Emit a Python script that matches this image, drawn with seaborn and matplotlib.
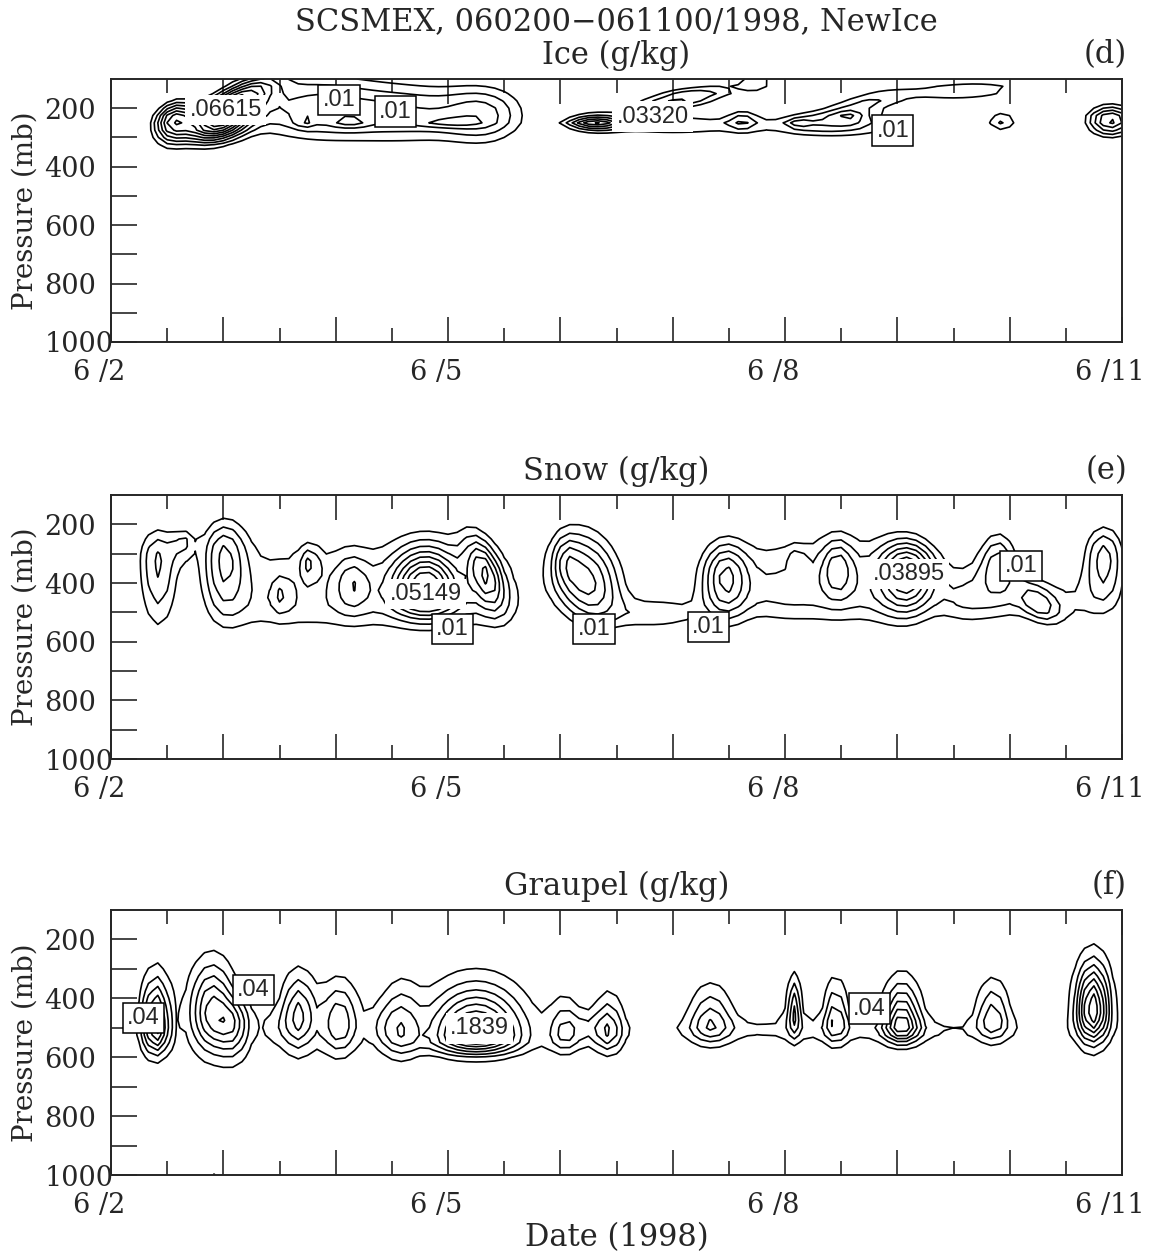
import numpy as np
import matplotlib
matplotlib.use("Agg")
import matplotlib.pyplot as plt
import matplotlib.transforms as mtransforms
import seaborn as sns

# model grid: 2-hourly output, 25 mb levels (days counted from 6/2 00Z)
days = np.arange(0, 9.0001, 1 / 12)
pres = np.arange(100, 1001, 25)

# cells of each hydrometeor: time (day), pressure (mb), peak (g/kg),
# width in days, width above / below the centre (mb), tilt (mb per day)
ice_t   = [0.95, 0.55, 1.15, 1.75, 2.70, 3.35, 1.72, 2.13, 3.00, 4.30, 5.00, 5.10, 5.75, 5.62,
           6.45, 6.12, 6.58, 6.70, 7.60, 7.93, 8.90]
ice_p   = [250, 238, 165, 200, 215, 220, 245, 250, 250, 255, 258, 165, 110, 240,
           255, 250, 232, 185, 140, 246, 240]
ice_amp = [0.050, 0.035, 0.030, 0.020, 0.018, 0.015, 0.008, 0.008, 0.009, 0.030, 0.016, 0.022, 0.012, 0.012,
           0.018, 0.008, 0.009, 0.015, 0.016, 0.016, 0.032]
ice_st  = [0.20, 0.12, 0.22, 0.45, 0.50, 0.25, 0.06, 0.12, 0.22, 0.18, 0.50, 0.33, 0.12, 0.10,
           0.45, 0.07, 0.09, 0.30, 0.38, 0.11, 0.15]
ice_su  = [40, 40, 35, 90, 75, 70, 15, 15, 15, 22, 25, 25, 30, 28,
           30, 12, 12, 30, 22, 28, 35]
ice_sd  = [45, 55, 40, 80, 80, 75, 15, 12, 12, 14, 25, 25, 30, 28,
           35, 12, 12, 30, 25, 28, 40]
ice_tl  = [-80, -100, -160, 0, 0, 0, 0, 0, 0, 0, 0, -60, 0, 0,
           0, 0, 0, -90, -20, 0, 0]

snow_t   = [0.42, 0.65, 1.00, 1.20, 1.65, 2.10, 2.55, 3.00, 3.45, 1.52, 1.77, 2.15, 2.80, 3.33,
            4.24, 4.05, 4.85, 5.47, 5.50, 6.00, 6.45, 6.90, 6.11, 6.47, 7.10, 7.60, 7.90, 8.25, 8.30, 8.84]
snow_p   = [320, 255, 300, 460, 460, 460, 460, 460, 460, 440, 330, 400, 420, 360,
            400, 320, 515, 370, 430, 430, 430, 430, 316, 344, 355, 450, 330, 470, 470, 310]
snow_amp = [0.021, 0.012, 0.022, 0.009, 0.009, 0.009, 0.009, 0.009, 0.009, 0.008, 0.012, 0.012, 0.040, 0.025,
            0.032, 0.010, 0.014, 0.022, 0.010, 0.012, 0.012, 0.012, 0.008, 0.016, 0.034, 0.012, 0.020, 0.014, 0.011, 0.022]
snow_st  = [0.13, 0.07, 0.14, 0.28, 0.28, 0.28, 0.28, 0.28, 0.28, 0.06, 0.06, 0.11, 0.20, 0.12,
            0.22, 0.08, 0.25, 0.14, 0.30, 0.25, 0.25, 0.25, 0.05, 0.10, 0.17, 0.20, 0.12, 0.14, 0.50, 0.13]
snow_su  = [82, 30, 85, 170, 170, 170, 170, 170, 170, 45, 40, 70, 95, 70,
            125, 60, 50, 80, 130, 150, 150, 150, 25, 70, 70, 100, 80, 50, 80, 80]
snow_sd  = [180, 50, 150, 90, 90, 90, 90, 90, 90, 45, 40, 70, 60, 80,
            100, 60, 30, 110, 80, 90, 90, 90, 25, 70, 100, 70, 80, 40, 60, 110]
snow_tl  = [0, 0, 0, 0, 0, 0, 0, 0, 0, 0, 0, 0, 0, 400,
            100, 0, 0, 0, 0, 0, 0, 0, 0, 0, 0, 0, 0, 200, 0, 0]

grau_t   = [0.40, 0.90, 1.10, 1.45, 1.67, 2.03, 2.40, 2.58, 3.25, 4.04, 4.25, 4.43, 5.34, 6.08,
            6.45, 7.04, 7.85, 8.74, 6.50, 0.95]
grau_p   = [500, 450, 490, 500, 465, 490, 500, 515, 535, 530, 500, 517, 490, 443,
            466, 494, 471, 440, 505, 1000]
grau_amp = [0.13, 0.11, 0.07, 0.025, 0.09, 0.08, 0.025, 0.07, 0.165, 0.06, 0.025, 0.07, 0.07, 0.08,
            0.07, 0.12, 0.07, 0.16, 0.027, 0.04]
grau_st  = [0.085, 0.135, 0.10, 0.10, 0.10, 0.12, 0.10, 0.12, 0.28, 0.10, 0.12, 0.09, 0.13, 0.045,
            0.07, 0.11, 0.10, 0.10, 1.30, 0.03]
grau_su  = [114, 115, 60, 50, 100, 100, 60, 110, 115, 90, 40, 90, 90, 80,
            90, 100, 90, 110, 35, 20]
grau_sd  = [62, 92, 80, 50, 80, 70, 50, 60, 38, 40, 40, 50, 45, 60,
            60, 40, 50, 75, 35, 20]
grau_tl  = [0] * 20

ice_levels = np.arange(0.01, 0.0651, 0.005)
snow_levels = np.arange(0.01, 0.0501, 0.005)
grau_levels = np.arange(0.02, 0.181, 0.02)

# contour labels: text, day, pressure, boxed
ice_labels = [(".06615", 1.02, 206, False), (".01", 2.03, 172, True), (".01", 2.53, 212, True),
              (".03320", 4.82, 229, False), (".01", 6.96, 277, True)]
snow_labels = [(".05149", 2.80, 437, False), (".01", 3.04, 557, True), (".01", 4.30, 557, True),
               (".01", 5.32, 550, True), (".03895", 7.10, 369, False), (".01", 8.10, 342, True)]
grau_labels = [(".04", 0.29, 466, True), (".04", 1.27, 372, True), (".1839", 3.28, 502, False),
               (".04", 6.75, 435, True)]

date_ticks = [0, 3, 6, 9]
date_names = ["6 /2", "6 /5", "6 /8", "6 /11"]


def build(t0s, p0s, amps, sts, sus, sds, tilts):
    T, P = np.meshgrid(days, pres)
    f = np.zeros_like(T)
    for t0, p0, a, st, su, sd, k in zip(t0s, p0s, amps, sts, sus, sds, tilts):
        pc = p0 + k * (T - t0)
        sp = np.where(P < pc, su, sd)
        f += a * np.exp(-0.5 * ((T - t0) / st) ** 2 - 0.5 * ((P - pc) / sp) ** 2)
    return f


sns.set_style("ticks")
plt.rcParams['font.family'] = ['DejaVu Serif']
plt.rcParams['axes.linewidth'] = 1.4

W, H = 1161, 1256
fig = plt.figure(figsize=(W / 100, H / 100), dpi=100)

panels = [
    ("Ice (g/kg)", "(d)", build(ice_t, ice_p, ice_amp, ice_st, ice_su, ice_sd, ice_tl), ice_levels, ice_labels, 79, 342),
    ("Snow (g/kg)", "(e)", build(snow_t, snow_p, snow_amp, snow_st, snow_su, snow_sd, snow_tl), snow_levels, snow_labels, 495, 759),
    ("Graupel (g/kg)", "(f)", build(grau_t, grau_p, grau_amp, grau_st, grau_su, grau_sd, grau_tl), grau_levels, grau_labels, 910, 1175),
]

left, right = 111, 1122
shift = mtransforms.ScaledTranslation(-12 / 100, 0, fig.dpi_scale_trans)

for name, tag, field, levels, labels, top, bot in panels:
    ax = fig.add_axes([left / W, 1 - bot / H, (right - left) / W, (bot - top) / H])
    ax.contour(days, pres, field, levels=levels, colors='k', linewidths=1.2)
    ax.set_xlim(0, 9)
    ax.set_ylim(1000, 100)

    ax.set_xticks(range(10))
    ax.set_xticklabels([date_names[date_ticks.index(d)] if d in date_ticks else "" for d in range(10)])
    ax.set_xticks(np.arange(0.5, 9, 1), minor=True)
    ax.set_yticks(range(200, 1001, 100))
    ax.set_yticklabels([str(v) if v % 200 == 0 else "" for v in range(200, 1001, 100)])
    ax.tick_params(axis='x', which='major', direction='in', length=18, width=1.2,
                   top=True, bottom=True, pad=12, labelsize=19.5)
    ax.tick_params(axis='x', which='minor', direction='in', length=10, width=1.2,
                   top=True, bottom=True)
    ax.tick_params(axis='y', direction='in', length=19, width=1.2, left=True, right=False,
                   pad=48, labelsize=19.5)
    for lab in ax.get_xticklabels():
        lab.set_transform(lab.get_transform() + shift)
    for lab in ax.get_yticklabels():
        lab.set_horizontalalignment('left')

    for txt, d, p, boxed in labels:
        box = dict(boxstyle='square,pad=0.18', fc='white', ec='k' if boxed else 'none', lw=1.1)
        ax.text(d, p, txt, ha='center', va='center', fontsize=17, family='Liberation Sans',
                bbox=box, zorder=5)

    fig.text(25 / W, 1 - 0.5 * (top + bot) / H, "Pressure (mb)", rotation=90,
             ha='center', va='center', fontsize=20)
    fig.text(0.5 * (left + right) / W, 1 - (top - 24) / H, name, ha='center', va='center', fontsize=22)
    fig.text(1127 / W, 1 - (top - 24) / H, tag, ha='right', va='center', fontsize=22)

fig.text(0.5 * (left + right) / W, 1 - 22 / H, "SCSMEX, 060200\u2212061100/1998, NewIce",
         ha='center', va='center', fontsize=22)
fig.text(0.5 * (left + right) / W, 1 - 1238 / H, "Date (1998)", ha='center', va='center', fontsize=22)

fig.savefig("out.png", dpi=100)
